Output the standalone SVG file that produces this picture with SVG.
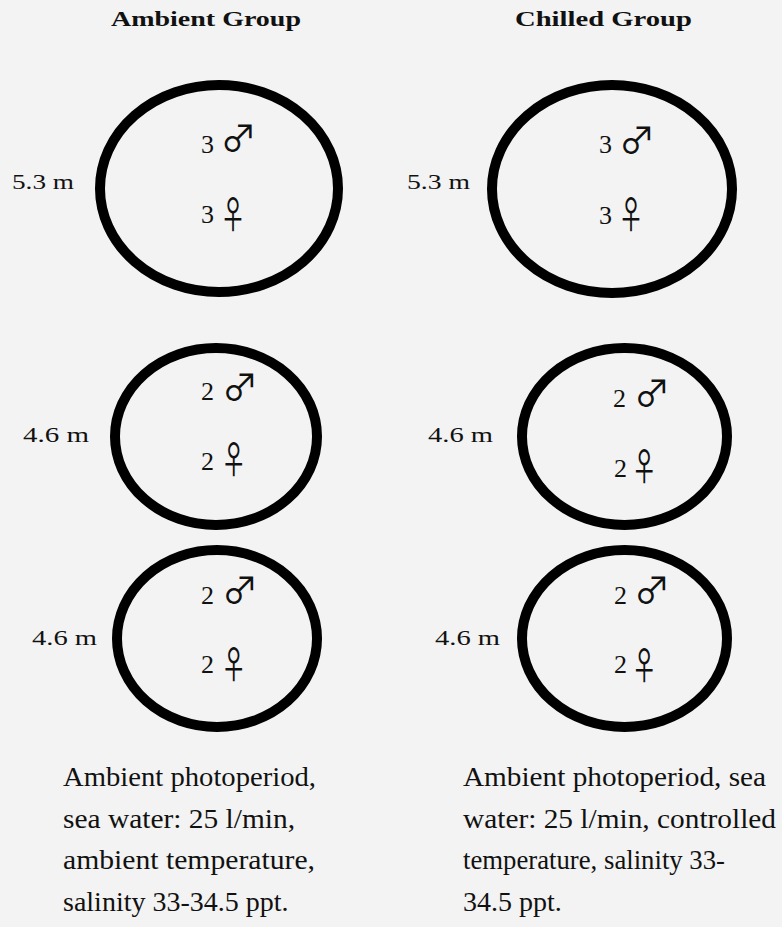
<svg xmlns="http://www.w3.org/2000/svg" width="782" height="927" viewBox="0 0 782 927">
<style>
.tank{fill:none;stroke:#000;stroke-width:10}
.title{font-family:"Liberation Serif","Times New Roman",serif;font-weight:bold;font-size:22px;fill:#111}
.lbl{font-family:"Liberation Serif","Times New Roman",serif;font-size:22px;fill:#111}
.cnt{font-family:"Liberation Serif","Times New Roman",serif;font-size:25px;fill:#111}
.male{font-family:"Noto Sans CJK JP","DejaVu Sans",sans-serif;font-size:36px;fill:#111}
.female{font-family:"Noto Sans CJK JP","DejaVu Sans",sans-serif;font-size:38px;fill:#111}
.note{font-family:"Liberation Serif","Times New Roman",serif;font-size:28px;fill:#111}
</style>
<rect width="782" height="927" fill="#f3f3f3"/>
<text class="title" x="111" y="26" textLength="190" lengthAdjust="spacingAndGlyphs">Ambient Group</text>
<text class="title" x="515" y="26" textLength="177" lengthAdjust="spacingAndGlyphs">Chilled Group</text>

<g id="tank-ambient-1">
<ellipse class="tank" cx="219" cy="188.5" rx="119" ry="103.5"/>
<text class="lbl" x="12" y="189" textLength="62" lengthAdjust="spacingAndGlyphs">5.3 m</text>
<text class="cnt" x="201" y="153" textLength="13" lengthAdjust="spacingAndGlyphs">3</text>
<text class="male" x="220.5" y="152">♂︎</text>
<text class="cnt" x="201" y="223" textLength="13" lengthAdjust="spacingAndGlyphs">3</text>
<text class="female" x="220" y="228" textLength="26" lengthAdjust="spacingAndGlyphs">♀︎</text>
</g>
<g id="tank-chilled-1">
<ellipse class="tank" cx="612" cy="189" rx="120" ry="104"/>
<text class="lbl" x="407" y="189" textLength="63" lengthAdjust="spacingAndGlyphs">5.3 m</text>
<text class="cnt" x="599" y="153" textLength="13" lengthAdjust="spacingAndGlyphs">3</text>
<text class="male" x="619" y="154">♂︎</text>
<text class="cnt" x="599" y="224" textLength="13" lengthAdjust="spacingAndGlyphs">3</text>
<text class="female" x="618" y="228" textLength="26" lengthAdjust="spacingAndGlyphs">♀︎</text>
</g>
<g id="tank-ambient-2">
<ellipse class="tank" cx="216" cy="436.5" rx="101" ry="88.5"/>
<text class="lbl" x="23" y="442" textLength="66" lengthAdjust="spacingAndGlyphs">4.6 m</text>
<text class="cnt" x="201" y="400" textLength="13" lengthAdjust="spacingAndGlyphs">2</text>
<text class="male" x="222" y="401">♂︎</text>
<text class="cnt" x="201" y="470" textLength="13" lengthAdjust="spacingAndGlyphs">2</text>
<text class="female" x="220.7" y="473" textLength="26" lengthAdjust="spacingAndGlyphs">♀︎</text>
</g>
<g id="tank-chilled-2">
<ellipse class="tank" cx="624.5" cy="436.5" rx="102.5" ry="88.5"/>
<text class="lbl" x="428" y="442" textLength="65" lengthAdjust="spacingAndGlyphs">4.6 m</text>
<text class="cnt" x="613" y="407" textLength="13" lengthAdjust="spacingAndGlyphs">2</text>
<text class="male" x="634" y="407">♂︎</text>
<text class="cnt" x="614" y="477" textLength="13" lengthAdjust="spacingAndGlyphs">2</text>
<text class="female" x="631.3" y="479.5" textLength="26" lengthAdjust="spacingAndGlyphs">♀︎</text>
</g>
<g id="tank-ambient-3">
<ellipse class="tank" cx="217" cy="638.5" rx="100" ry="88.5"/>
<text class="lbl" x="32" y="645" textLength="65" lengthAdjust="spacingAndGlyphs">4.6 m</text>
<text class="cnt" x="201" y="604" textLength="13" lengthAdjust="spacingAndGlyphs">2</text>
<text class="male" x="222" y="604">♂︎</text>
<text class="cnt" x="201" y="673" textLength="13" lengthAdjust="spacingAndGlyphs">2</text>
<text class="female" x="220.7" y="678" textLength="26" lengthAdjust="spacingAndGlyphs">♀︎</text>
</g>
<g id="tank-chilled-3">
<ellipse class="tank" cx="624.5" cy="638.5" rx="102.5" ry="88.5"/>
<text class="lbl" x="435" y="645" textLength="65" lengthAdjust="spacingAndGlyphs">4.6 m</text>
<text class="cnt" x="614" y="604" textLength="13" lengthAdjust="spacingAndGlyphs">2</text>
<text class="male" x="634" y="604">♂︎</text>
<text class="cnt" x="614" y="673" textLength="13" lengthAdjust="spacingAndGlyphs">2</text>
<text class="female" x="631.3" y="678.5" textLength="26" lengthAdjust="spacingAndGlyphs">♀︎</text>
</g>

<g id="note-ambient">
<text class="note" x="63" y="786" textLength="253" lengthAdjust="spacingAndGlyphs">Ambient photoperiod,</text>
<text class="note" x="63" y="828" textLength="232" lengthAdjust="spacingAndGlyphs">sea water: 25 l/min,</text>
<text class="note" x="63" y="869" textLength="252" lengthAdjust="spacingAndGlyphs">ambient temperature,</text>
<text class="note" x="63" y="911">salinity 33-34.5 ppt.</text>
</g>
<g id="note-chilled">
<text class="note" x="463" y="786" textLength="303" lengthAdjust="spacingAndGlyphs">Ambient photoperiod, sea</text>
<text class="note" x="463" y="828" textLength="313" lengthAdjust="spacingAndGlyphs">water: 25 l/min, controlled</text>
<text class="note" x="463" y="869" textLength="262" lengthAdjust="spacingAndGlyphs">temperature, salinity 33-</text>
<text class="note" x="463" y="911">34.5 ppt.</text>
</g>
<g id="connectors"/>
</svg>
